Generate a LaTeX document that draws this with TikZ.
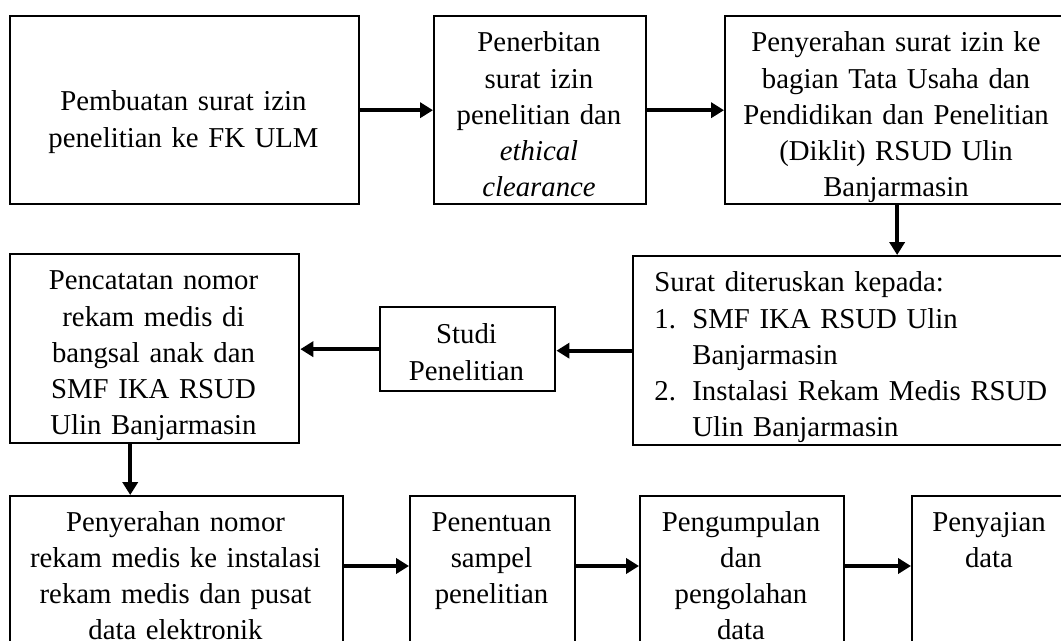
\documentclass[tikz,border=0pt]{standalone}
\usepackage{fontspec}
\setmainfont{Liberation Serif}
\usetikzlibrary{positioning,arrows.meta}

\begin{document}
\begin{tikzpicture}[x=0.417pt,y=-0.417pt,
  box/.style={draw,line width=1pt,inner sep=0pt,anchor=north west},
  lab/.style={font=\fontsize{12}{15.1}\selectfont,align=center,anchor=base,inner sep=0pt},
  arr/.style={-{Triangle[length=5.4pt,width=6.3pt]},line width=1.6pt}]
% picture measured in pixels of the scan, y runs downwards
\useasboundingbox (0,0) rectangle (1061,641);
\clip (0,0) rectangle (1061,641);
% frames
\node[box,minimum width=145.5pt,minimum height=78.4pt] (pembuatan) at (9,15) {};
\node[box,minimum width=88.4pt,minimum height=78.4pt] (penerbitan) at (433,15) {};
\node[box,minimum width=143.4pt,minimum height=78.4pt] (penyerahan) at (724,15) {};
\node[box,minimum width=186.8pt,minimum height=78.8pt] (diteruskan) at (632,255) {};
\node[box,minimum width=73pt,minimum height=35pt] (studi) at (379,306) {};
\node[box,minimum width=120.5pt,minimum height=78.8pt] (pencatatan) at (9,253) {};
\node[box,minimum width=138.9pt,minimum height=81.3pt] (nomor) at (9,495) {};
\node[box,minimum width=68.8pt,minimum height=81.3pt] (sampel) at (409,495) {};
\node[box,minimum width=85.1pt,minimum height=81.3pt] (pengumpulan) at (639,495) {};
\node[box,minimum width=65.1pt,minimum height=81.3pt] (penyajian) at (911,495) {};
% texts
\node[lab,text width=145.5pt] (t-pembuatan) at (183.5,111) {Pembuatan surat izin\\penelitian ke FK ULM};
\node[lab,text width=88.4pt] (t-penerbitan) at (539,52) {Penerbitan\\surat izin\\penelitian dan\\\textit{ethical}\\\textit{clearance}};
\node[lab,text width=143.4pt] (t-penyerahan) at (896,52) {Penyerahan surat izin ke\\bagian Tata Usaha dan\\Pendidikan dan Penelitian\\(Diklit) RSUD Ulin\\Banjarmasin};
\node[lab,text width=180pt,align=left,anchor=base west] (t-diteruskan) at (654,292) {Surat diteruskan kepada:\\\makebox[15.8pt][l]{1.}SMF IKA RSUD Ulin\\\hspace*{15.8pt}Banjarmasin\\\makebox[15.8pt][l]{2.}Instalasi Rekam Medis RSUD\\\hspace*{15.8pt}Ulin Banjarmasin};
\node[lab,text width=73pt] (t-studi) at (466.5,344) {Studi\\Penelitian};
\node[lab,text width=120.5pt] (t-pencatatan) at (153.5,290) {Pencatatan nomor\\rekam medis di\\bangsal anak dan\\SMF IKA RSUD\\Ulin Banjarmasin};
\node[lab,text width=138.9pt] (t-nomor) at (175.5,531) {Penyerahan nomor\\rekam medis ke instalasi\\rekam medis dan pusat\\data elektronik};
\node[lab,text width=68.8pt] (t-sampel) at (491.5,531) {Penentuan\\sampel\\penelitian};
\node[lab,text width=85.1pt] (t-pengumpulan) at (741,531) {Pengumpulan\\dan\\pengolahan\\data};
\node[lab,text width=65.1pt] (t-penyajian) at (989,531) {Penyajian\\data};
% connectors
\coordinate (row3) at (0,566);
\draw[arr] (pembuatan.east) -- (penerbitan.west);
\draw[arr] (penerbitan.east) -- (penyerahan.west);
\draw[arr] (penyerahan.south) -- (diteruskan.north -| penyerahan.south);
\draw[arr] (diteruskan.west) -- (studi.east |- diteruskan.west);
\draw[arr] (studi.west) -- (pencatatan.east |- studi.west);
\draw[arr] ([xshift=-10.2pt]pencatatan.south) -- ([xshift=-10.2pt]pencatatan.south |- nomor.north);
\draw[arr] (nomor.east |- row3) -- (sampel.west |- row3);
\draw[arr] (sampel.east |- row3) -- (pengumpulan.west |- row3);
\draw[arr] (pengumpulan.east |- row3) -- (penyajian.west |- row3);
\end{tikzpicture}
\end{document}
